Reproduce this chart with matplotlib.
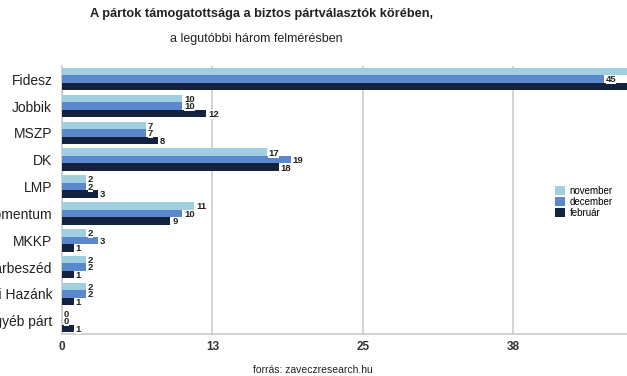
import matplotlib
matplotlib.use("Agg")
import matplotlib.pyplot as plt
import numpy as np
from matplotlib.patches import Patch

plt.rcParams['font.family'] = ['Liberation Sans', 'DejaVu Sans']

parties = ["Fidesz", "Jobbik", "MSZP", "DK", "LMP", "Momentum", "MKKP",
           "Párbeszéd", "Mi Hazánk", "Egyéb párt"]
november = [48, 10, 7, 17, 2, 11, 2, 2, 2, 0]
december = [45, 10, 7, 19, 2, 10, 3, 2, 2, 0]
februar = [49, 12, 8, 18, 3, 9, 1, 1, 1, 1]
series_names = ["november", "december", "február"]
colors = ["#9fcfe0", "#5b88cc", "#13233f"]
xticks = [0, 12.5, 25, 37.5]
xticklabels = ["0", "13", "25", "38"]

fig = plt.figure(figsize=(6.27, 3.76), dpi=100)
ax = fig.add_axes([62/627, 42/376, 602/627, 268/376])

w = 0.28
y = np.arange(len(parties))
visible_max = 46.5  # right edge of the cropped picture
for k, (vals, c) in enumerate(zip([november, december, februar], colors)):
    pos = y + (k - 1) * w
    ax.barh(pos, vals, height=w, color=c, zorder=3)
    for yy, v in zip(pos, vals):
        if v > visible_max:
            continue
        ax.text(v + 0.15, yy + 0.03, str(v), va='center', ha='left', fontsize=6.8,
                fontweight='bold', color='#222222', zorder=4,
                bbox=dict(facecolor='white', edgecolor='none', pad=0.0))

ax.set_ylim(9.49, -0.49)
ax.set_xlim(0, 50)
ax.set_yticks(y)
ax.set_yticklabels(parties, fontsize=10, color='#222222')
ax.set_xticks(xticks)
ax.set_xticklabels(xticklabels, fontsize=8.5, fontweight='bold', color='#333333')
ax.tick_params(axis='both', length=0)
ax.tick_params(axis='y', pad=7)
ax.tick_params(axis='x', pad=5)
ax.grid(axis='x', color='#cccccc', linewidth=1.2, zorder=0)
for s in ['top', 'right']:
    ax.spines[s].set_visible(False)
for s in ['left', 'bottom']:
    ax.spines[s].set_color('#cccccc')
    ax.spines[s].set_linewidth(1.2)

handles = [Patch(facecolor=c, edgecolor='none') for c in colors]
fig.legend(handles, series_names, loc='upper left', bbox_to_anchor=(548/627, 1 - 179/376),
           frameon=False, fontsize=7, handlelength=1.0, handleheight=1.0,
           handletextpad=0.5, labelspacing=0.1, borderpad=0.2)

fig.text(261/627, 1 - 14/376, "A pártok támogatottsága a biztos pártválasztók körében,",
         ha='center', va='center', fontsize=9.2, fontweight='bold', color='#222222')
fig.text(256/627, 1 - 39/376, "a legutóbbi három felmérésben",
         ha='center', va='center', fontsize=9.0, color='#222222')
fig.text(313/627, 1 - 370/376, "forrás: zaveczresearch.hu", ha='center', va='center',
         fontsize=7.5, color='#222222')

fig.savefig("out.png", dpi=100)
